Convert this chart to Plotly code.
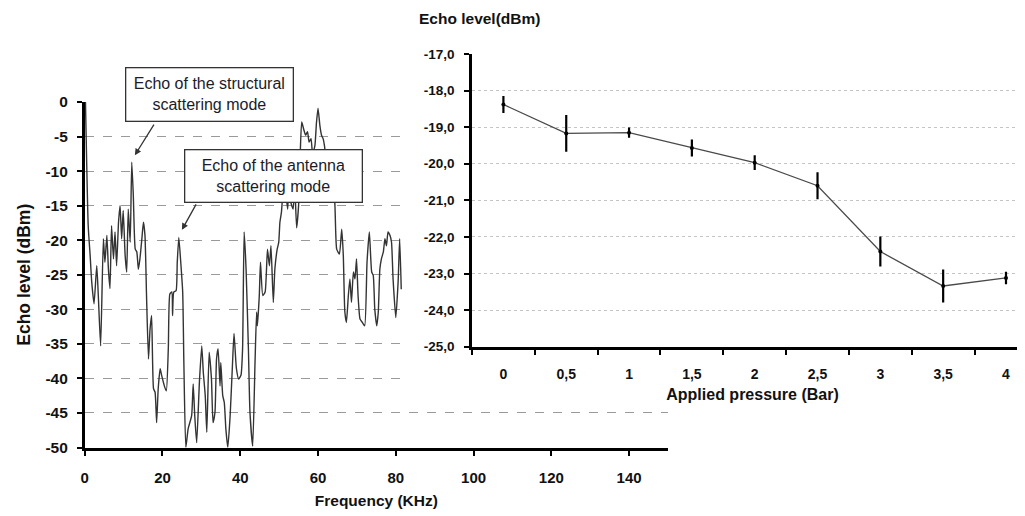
import plotly.graph_objects as go

# ---------------- Left chart: echo spectrum ----------------
freq_khz = [0.2, 0.9, 1.4, 1.8, 2.4, 3.1, 3.5, 4.1, 4.8, 5.2, 5.7, 6.1, 6.5, 6.9, 7.4, 7.8,
            8.2, 8.7, 9.1, 9.5, 9.9, 10.4, 10.8, 11.2, 11.7, 12.1, 12.5, 13.0, 13.4, 13.8,
            14.2, 14.7, 15.1, 15.5, 15.9, 16.4, 16.8, 17.2, 17.7, 18.1, 18.5, 18.9, 19.4,
            19.8, 20.6, 21.0, 21.5, 21.9, 22.4, 22.6, 22.9, 23.5, 23.8, 24.2, 24.7, 25.2,
            25.5, 26.0, 26.6, 27.5, 27.9, 28.3, 28.8, 29.5, 30.1, 30.5, 31.0, 31.4, 32.0,
            32.6, 33.0, 33.5, 33.9, 34.3, 34.8, 35.0, 35.5, 35.9, 36.3, 36.8, 37.4, 38.0,
            38.4, 39.0, 39.6, 40.2, 40.6, 41.0, 41.5, 42.1, 42.5, 43.2, 43.8, 44.2, 44.4,
            44.9, 45.2, 45.8, 46.4, 47.0, 47.5, 47.9, 48.5, 48.9, 49.5, 49.9, 50.2, 50.6,
            50.9, 51.3, 51.7, 52.2, 52.6, 53.0, 53.6, 54.0, 54.5, 55.0, 55.4, 55.8, 56.3,
            56.8, 57.3, 57.7, 58.2, 58.6, 59.2, 59.6, 60.0, 60.5, 60.9, 61.3, 61.7, 62.1,
            62.6, 63.0, 63.5, 63.9, 64.3, 64.8, 65.5, 66.1, 66.5, 66.9, 67.3, 67.8, 68.2,
            68.6, 69.1, 69.5, 69.9, 70.3, 70.8, 71.4, 72.0, 72.6, 73.2, 73.8, 74.2, 74.6,
            75.1, 75.5, 75.9, 76.3, 76.8, 77.2, 77.6, 78.0, 78.5, 78.9, 79.3, 80.0, 80.6,
            81.0, 81.4]
echo_dbm = [0.0, -17.9, -22.2, -26.0, -29.2, -23.7, -28.0, -35.3, -19.8, -23.2, -19.3, -24.2,
            -27.0, -17.9, -22.7, -18.8, -23.7, -17.4, -15.0, -19.8, -15.7, -22.2, -24.6,
            -15.5, -20.3, -8.7, -13.5, -21.3, -21.7, -24.2, -22.7, -19.8, -17.4, -19.3,
            -28.0, -37.2, -32.9, -30.9, -41.5, -42.0, -46.4, -41.5, -38.6, -39.6, -41.3,
            -41.8, -35.7, -27.8, -27.5, -30.9, -27.5, -27.3, -23.2, -19.6, -23.2, -27.5,
            -37.7, -50.0, -47.3, -45.4, -40.8, -45.4, -49.3, -40.5, -35.3, -39.1, -42.5,
            -47.8, -36.2, -40.1, -46.4, -44.9, -37.2, -35.7, -41.1, -37.7, -42.5, -43.5,
            -47.3, -50.0, -45.4, -38.0, -33.5, -38.5, -40.1, -39.5, -35.7, -18.8, -24.2,
            -35.7, -44.9, -49.8, -37.7, -30.4, -32.4, -28.0, -23.2, -28.0, -27.5, -21.3,
            -23.7, -20.8, -29.0, -24.2, -21.3, -20.3, -17.4, -15.9, -13.5, -10.0, -13.0,
            -15.5, -11.0, -14.5, -15.5, -12.0, -18.2, -15.0, -8.0, -2.9, -3.9, -4.8, -4.3,
            -5.8, -5.3, -7.5, -6.3, -3.0, -0.9, -3.5, -4.8, -5.3, -6.5, -9.0, -12.0, -10.0,
            -13.0, -13.5, -14.5, -21.3, -22.0, -18.4, -22.2, -30.4, -31.9, -28.0, -25.6,
            -29.0, -24.6, -25.6, -22.7, -28.0, -31.4, -31.9, -32.4, -23.2, -18.8, -24.6,
            -25.1, -30.0, -32.4, -30.4, -24.2, -22.7, -21.7, -19.8, -20.8, -18.8, -19.3,
            -20.3, -25.6, -31.2, -26.0, -19.8, -27.1]

left_x_ticks = [0, 20, 40, 60, 80, 100, 120, 140]
left_y_tickvals = [0, -5, -10, -15, -20, -25, -30, -35, -40, -45, -50]
left_y_ticktext = ["0", "-5", "-10", "-15", "-20", "-25", "-30", "-35", "-40", "-45", "-50"]

# ---------------- Right chart: echo level vs pressure ----------------
pressure_labels = ["0", "0,5", "1", "1,5", "2", "2,5", "3", "3,5", "4"]
echo_level = [-18.38, -19.17, -19.15, -19.57, -19.97, -20.60, -22.40, -23.34, -23.12]
echo_err = [0.23, 0.50, 0.14, 0.23, 0.20, 0.37, 0.41, 0.45, 0.17]
right_y_tickvals = [-17, -18, -19, -20, -21, -22, -23, -24, -25]
right_y_ticktext = ["-17,0", "-18,0", "-19,0", "-20,0", "-21,0", "-22,0", "-23,0", "-24,0", "-25,0"]

FONT = "Liberation Sans, Arial, sans-serif"
BOLD = dict(family=FONT, weight="bold", color="#111111")
W, H = 1025, 516
OFF = 8  # page body margin offset in the browser


def px_x(p):
    return (p - OFF) / W


def px_y(p):
    return 1 - (p - OFF) / H


fig = go.Figure()

fig.add_trace(go.Scatter(
    x=freq_khz, y=echo_dbm, mode="lines",
    line=dict(color="#333333", width=1.4, shape="spline", smoothing=0.5),
    xaxis="x", yaxis="y", showlegend=False, hoverinfo="skip"))

# empty trace: a white backdrop subplot behind the inset chart
fig.add_trace(go.Scatter(x=[], y=[], xaxis="x2", yaxis="y2", showlegend=False))

fig.add_trace(go.Scatter(
    x=pressure_labels, y=echo_level, mode="lines+markers",
    line=dict(color="#4a4a4a", width=1.3),
    marker=dict(color="black", size=4),
    error_y=dict(type="data", array=echo_err, color="black", thickness=2.2, width=0),
    xaxis="x3", yaxis="y3", showlegend=False))

fig.update_layout(
    width=W, height=H,
    margin=dict(l=0, r=0, t=0, b=0, autoexpand=False),
    paper_bgcolor="white", plot_bgcolor="white",
    showlegend=False,
    xaxis=dict(
        domain=[px_x(84.7), px_x(668)], range=[0, 150], anchor="y", automargin=False,
        tickmode="array", tickvals=left_x_ticks,
        ticks="outside", ticklen=6, tickwidth=2, tickcolor="black",
        showline=True, linewidth=2.5, linecolor="black",
        showgrid=False, zeroline=False,
        tickfont=dict(BOLD, size=15), ticklabelstandoff=9,
        title=dict(text="Frequency (KHz)", font=dict(BOLD, size=15.5), standoff=10),
    ),
    yaxis=dict(
        domain=[px_y(447.5), px_y(102)], range=[-50, 0], anchor="x", automargin=False,
        tickmode="array", tickvals=left_y_tickvals, ticktext=left_y_ticktext,
        ticks="outside", ticklen=5, tickwidth=2, tickcolor="black",
        showline=True, linewidth=2.5, linecolor="black",
        showgrid=True, gridcolor="#9a9a9a", griddash="dash", gridwidth=1.3,
        zeroline=False,
        tickfont=dict(BOLD, size=15.5), ticklabelstandoff=6,
        title=dict(text="Echo level (dBm)", font=dict(BOLD, size=17.5), standoff=11),
    ),
    xaxis2=dict(domain=[px_x(403), 1.0], anchor="y2", visible=False, range=[0, 1], automargin=False),
    yaxis2=dict(domain=[px_y(407), 1.0], anchor="x2", visible=False, range=[0, 1], automargin=False),
    xaxis3=dict(
        domain=[px_x(472), 1.0], anchor="y3", type="category", automargin=False,
        range=[-0.5, 8.43],
        ticks="outside", tickson="boundaries", ticklen=6, tickwidth=2, tickcolor="black",
        showline=True, linewidth=2.5, linecolor="black",
        showgrid=False, zeroline=False,
        tickfont=dict(BOLD, size=14), ticklabelstandoff=13,
        title=dict(text="Applied pressure (Bar)", font=dict(BOLD, size=16), standoff=8),
    ),
    yaxis3=dict(
        domain=[px_y(346.7), px_y(54)], anchor="x3", range=[-25, -17], automargin=False,
        tickmode="array", tickvals=right_y_tickvals, ticktext=right_y_ticktext,
        ticks="outside", ticklen=5, tickwidth=2, tickcolor="black",
        showline=True, linewidth=2.5, linecolor="black",
        showgrid=True, gridcolor="#c4c4c4", griddash="dot", gridwidth=1.2,
        zeroline=False,
        tickfont=dict(BOLD, size=13.5), ticklabelstandoff=7,
    ),
    annotations=[
        dict(text="Echo level(dBm)", xref="paper", yref="paper",
             x=px_x(417), y=px_y(18), xanchor="left", yanchor="middle",
             showarrow=False, font=dict(BOLD, size=15.5)),
        dict(text="Echo of the structural<br>scattering mode", xref="paper", yref="paper",
             x=px_x(209), y=px_y(95), xanchor="center", yanchor="middle",
             showarrow=False, bgcolor="white", bordercolor="#333333", borderwidth=1.3,
             borderpad=3, width=160, height=46,
             font=dict(family=FONT, size=16, color="#1b1b2a")),
        dict(text="", xref="x", yref="y", x=12.9, y=-7.7, ax=20, ay=-32,
             showarrow=True, arrowhead=2, arrowsize=1, arrowwidth=1.3, arrowcolor="#333333"),
        dict(text="Echo of the antenna<br>scattering mode", xref="paper", yref="paper",
             x=px_x(273), y=px_y(175.5), xanchor="center", yanchor="middle",
             showarrow=False, bgcolor="white", bordercolor="#333333", borderwidth=1.3,
             borderpad=3, width=170, height=45,
             font=dict(family=FONT, size=16, color="#1b1b2a")),
        dict(text="", xref="x", yref="y", x=25.0, y=-18.5, ax=15, ay=-27,
             showarrow=True, arrowhead=2, arrowsize=1, arrowwidth=1.3, arrowcolor="#333333"),
    ],
)

fig.write_html("out.html")
